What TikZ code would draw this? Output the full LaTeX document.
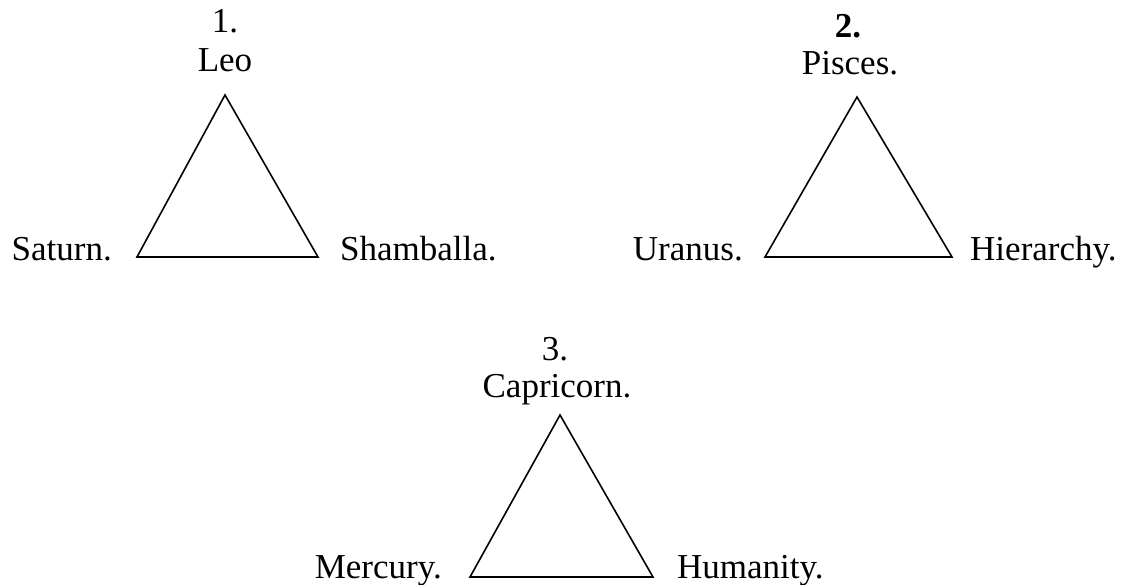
\documentclass[tikz,border=0pt]{standalone}
\usepackage{fontspec}
\setmainfont{Liberation Serif}
\begin{document}
\begin{tikzpicture}[x=1bp,y=-1bp,
  lbl/.style={inner sep=0pt,font=\fontsize{35bp}{40bp}\selectfont},
  tri/.style={draw=black,line width=1.6bp,line join=miter}]
\useasboundingbox (0,0) rectangle (1128,585);
% Triangle 1
\coordinate (a1) at (225,95);
\coordinate (l1) at (137,257);
\coordinate (r1) at (318,257);
\draw[tri] (a1) -- (l1) -- (r1) -- cycle;
\node[lbl,anchor=base] (n1) at (225,33) {1.};
\node[lbl,anchor=base] (t1) at (225,72) {Leo};
\node[lbl,anchor=base east] (s1) at (112,261) {Saturn.};
\node[lbl,anchor=base west] (h1) at (340,261) {Shamballa.};
% Triangle 2
\coordinate (a2) at (857,97);
\coordinate (l2) at (765,257);
\coordinate (r2) at (952,257);
\draw[tri] (a2) -- (l2) -- (r2) -- cycle;
\node[lbl,anchor=base] (n2) at (848,38) {\textbf{2.}};
\node[lbl,anchor=base] (t2) at (850,75) {Pisces.};
\node[lbl,anchor=base east] (s2) at (743,261) {Uranus.};
\node[lbl,anchor=base west] (h2) at (970,261) {Hierarchy.};
% Triangle 3
\coordinate (a3) at (560,415);
\coordinate (l3) at (470,577);
\coordinate (r3) at (653,577);
\draw[tri] (a3) -- (l3) -- (r3) -- cycle;
\node[lbl,anchor=base] (n3) at (555,360) {3.};
\node[lbl,anchor=base] (t3) at (557,397) {Capricorn.};
\node[lbl,anchor=base east] (s3) at (442,578) {Mercury.};
\node[lbl,anchor=base west] (h3) at (677,578) {Humanity.};
\end{tikzpicture}
\end{document}
